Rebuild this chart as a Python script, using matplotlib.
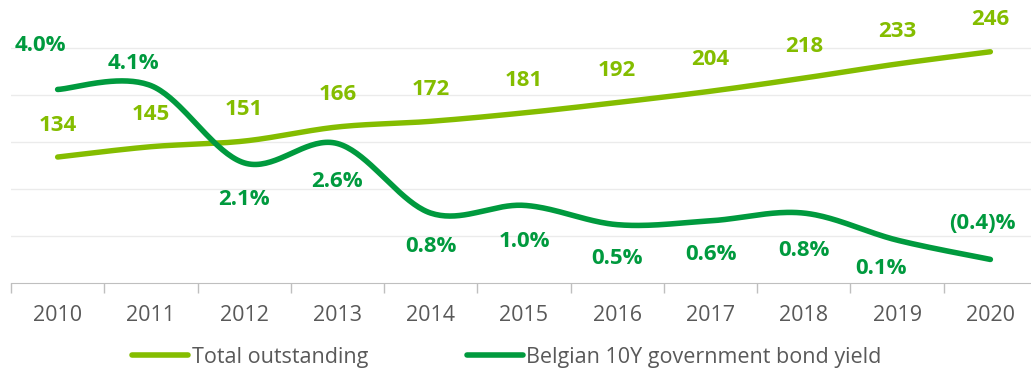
import numpy as np
import matplotlib.pyplot as plt
from matplotlib.lines import Line2D

plt.rcParams['font.family'] = ['Open Sans', 'DejaVu Sans']

years = ["2010", "2011", "2012", "2013", "2014", "2015", "2016", "2017", "2018", "2019", "2020"]
total_outstanding = [134, 145, 151, 166, 172, 181, 192, 204, 218, 233, 246]
bond_yield = [4.0, 4.1, 2.1, 2.6, 0.8, 1.0, 0.5, 0.6, 0.8, 0.1, -0.4]
yield_labels = ["4.0%", "4.1%", "2.1%", "2.6%", "0.8%", "1.0%", "0.5%", "0.6%", "0.8%", "0.1%", "(0.4)%"]

LIGHT = "#84bd00"
DARK = "#009a3e"
GREY_TXT = "#595959"

# label offsets in pixels (dx, dy) for the yield series
yield_offsets = [(-17, 44), (-17, 22), (0, -37), (0, -38), (0, -33), (0, -36),
                 (0, -34), (0, -34), (0, -37), (-16, -28), (-8, 36)]


def smooth(x, y, n=40):
    # bezier smoothing through every point, control points from neighbours
    x = np.asarray(x, float)
    y = np.asarray(y, float)
    px = np.concatenate([[x[0]], x, [x[-1]]])
    py = np.concatenate([[y[0]], y, [y[-1]]])
    t = np.linspace(0, 1, n)[:, None]
    out = []
    for i in range(1, len(px) - 2):
        p0 = np.array([px[i], py[i]])
        p3 = np.array([px[i + 1], py[i + 1]])
        p1 = p0 + (np.array([px[i + 1], py[i + 1]]) - np.array([px[i - 1], py[i - 1]])) / 6
        p2 = p3 - (np.array([px[i + 2], py[i + 2]]) - np.array([px[i], py[i]])) / 6
        seg = (1 - t) ** 3 * p0 + 3 * (1 - t) ** 2 * t * p1 + 3 * (1 - t) * t ** 2 * p2 + t ** 3 * p3
        out.append(seg if i == 1 else seg[1:])
    seg = np.vstack(out)
    return seg[:, 0], seg[:, 1]


fig = plt.figure(figsize=(10.31, 3.70), dpi=100)
ax = fig.add_axes([11 / 1031, 87 / 370, 1026 / 1031, 282 / 370])
ax2 = ax.twinx()

x = np.arange(len(years))
sx, sy = smooth(x, total_outstanding)
ax.plot(sx, sy, color=LIGHT, lw=3.9, solid_capstyle="round", zorder=3)
sx2, sy2 = smooth(x, bond_yield)
ax2.plot(sx2, sy2, color=DARK, lw=4.0, solid_capstyle="round", zorder=3)

for xi, v in zip(x, total_outstanding):
    ax.annotate(str(v), (xi, v), xytext=(0, 32), textcoords="offset pixels",
                ha="center", va="center", color=LIGHT, fontsize=16, fontweight="bold")
for xi, v, lab, (dx, dy) in zip(x, bond_yield, yield_labels, yield_offsets):
    ax2.annotate(lab, (xi, v), xytext=(dx, dy), textcoords="offset pixels",
                 ha="center", va="center", color=DARK, fontsize=16, fontweight="bold")

ax.set_xlim(-0.5, 10.5)
ax.set_ylim(0, 300)
ax2.set_ylim(-1.01, 6.29)
ax.set_yticks([50, 100, 150, 200, 250])
ax.yaxis.grid(True, color="#ebebeb", lw=1)
ax.set_axisbelow(True)
ax.tick_params(axis="y", left=False, labelleft=False)
ax2.set_yticks([])

ax.set_xticks(x)
ax.set_xticklabels(years, color=GREY_TXT, fontsize=15.5)
ax.set_xticks(np.arange(-0.5, 11, 1), minor=True)
ax.tick_params(axis="x", which="major", length=0, pad=16)
ax.tick_params(axis="x", which="minor", length=7, color="#bfbfbf", width=1)

for a in (ax, ax2):
    for side in ("top", "right", "left"):
        a.spines[side].set_visible(False)
    a.spines["bottom"].set_color("#bfbfbf")
ax2.spines["bottom"].set_visible(False)

handles = [Line2D([], [], color=LIGHT, lw=4, solid_capstyle="round"),
           Line2D([], [], color=DARK, lw=4, solid_capstyle="round")]
fig.legend(handles, ["Total outstanding", "Belgian 10Y government bond yield"],
           loc="center", bbox_to_anchor=(507 / 1031, 1 - 357 / 370), ncol=2,
           frameon=False, fontsize=15.5, handlelength=2.6, handletextpad=0.15,
           columnspacing=4.6, labelcolor=GREY_TXT, borderpad=0)

fig.savefig("out.png", dpi=100)
